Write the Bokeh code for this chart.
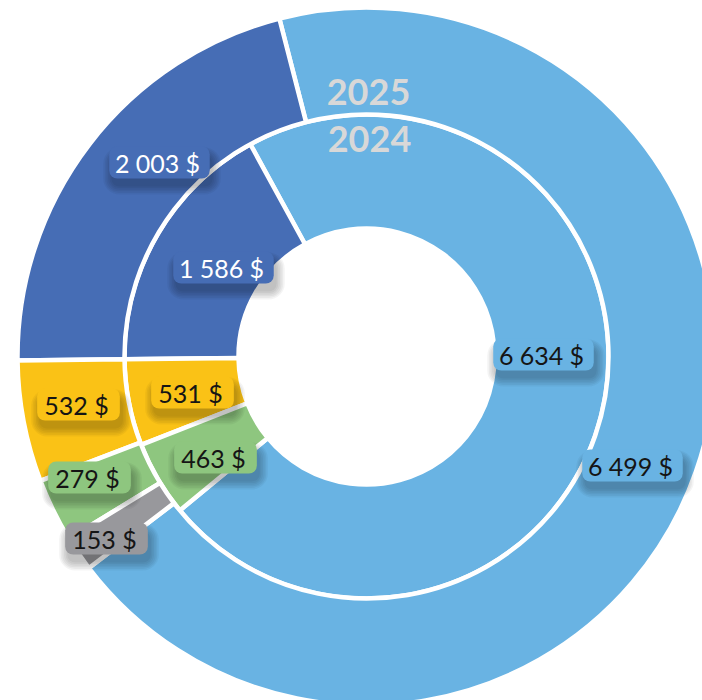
import math
from bokeh.plotting import figure
from bokeh.models import Range1d, ColumnDataSource
from bokeh.core.properties import value
from bokeh.embed import file_html
from bokeh.resources import INLINE

# ---------------- data ----------------
categories = ["Catégorie 1", "Catégorie 2", "Catégorie 3", "Catégorie 4", "Catégorie 5"]
values_2025 = [6499, 2003, 532, 279, 153]
values_2024 = [6634, 1586, 531, 463, 0]
years = ["2025", "2024"]

# ---------------- styles ----------------
colors = ["#69B3E3", "#466DB5", "#FAC216", "#8EC67F", "#98989C"]
label_text_colors = ["#151515", "#FFFFFF", "#151515", "#151515", "#151515"]
FONT = "Lato"

# ---------------- layout ----------------
W, H = 702, 700
PX0, PY0 = 0, 0  # page offset of the figure (bokeh template has no body margin)


def dy(py):
    """page y -> data y"""
    return 700 - py


CX, CY = 366, dy(356)
R_HOLE, R_MID, R_OUT = 128, 242, 349
START_OUTER, START_INNER = 217.3, 219.5
STROKE = 4.5

# text centres of the value labels (page px)
label_pos_2025 = [(630, 465), (157, 162), (76, 404), (87, 477), (104, 538)]
label_pos_2024 = [(541, 354), (221, 267), (190, 392), (213, 457), None]
year_radius = [265, 218]

p = figure(width=W, height=H, output_backend="svg", toolbar_location=None,
           x_range=Range1d(PX0, PX0 + W), y_range=Range1d(dy(PY0 + H), dy(PY0)),
           x_axis_type=None, y_axis_type=None, min_border=0)
p.grid.visible = False
p.outline_line_color = None
p.background_fill_color = "white"
p.border_fill_color = "white"


def fmt(v):
    return f"{v:,}".replace(",", "\u202f") + "\u00a0$"


def ring(vals, start, r_in, r_out):
    tot = float(sum(vals))
    a = start
    xs, ys, sa, ea, cols = [], [], [], [], []
    for i, v in enumerate(vals):
        if v <= 0:
            continue
        span = v / tot * 360.0
        xs.append(CX)
        ys.append(CY)
        sa.append(math.radians(a % 360))
        ea.append(math.radians((a + span) % 360))
        cols.append(colors[i])
        a += span
    src = ColumnDataSource(dict(x=xs, y=ys, sa=sa, ea=ea, c=cols))
    p.annular_wedge(x="x", y="y", inner_radius=r_in, outer_radius=r_out,
                    start_angle="sa", end_angle="ea",
                    fill_color="c", line_color="white", line_width=STROKE,
                    source=src)


ring(values_2024, START_INNER, R_HOLE, R_MID)
ring(values_2025, START_OUTER, R_MID, R_OUT)

# ---------------- value labels ----------------
FS = 25
DIGIT_W = 14.3
SPACE_W = 3.5
PAD_L, PAD_R, HALF_H = 9, 13, 16


def text_width(s):
    w = 0.0
    for ch in s:
        w += SPACE_W if ch in "\u202f\u00a0 " else DIGIT_W
    return w


boxes = []
for vals, poss in ((values_2025, label_pos_2025), (values_2024, label_pos_2024)):
    for i, v in enumerate(vals):
        if v <= 0 or poss[i] is None:
            continue
        tx, ty = poss[i]
        t = fmt(v)
        w = text_width(t)
        boxes.append(dict(tx=tx, ty=ty, t=t, l=tx - w / 2 - PAD_L, r=tx + w / 2 + PAD_R,
                          top=ty - HALF_H, bot=ty + HALF_H, c=colors[i],
                          tc=label_text_colors[i]))

# soft shadows (mostly below the boxes)
for k in range(6):
    e = k * 1.6
    src = ColumnDataSource(dict(
        l=[b["l"] + 2 - e for b in boxes], r=[b["r"] + 3 + e for b in boxes],
        t=[dy(b["top"] + 9 - e) for b in boxes], b=[dy(b["bot"] + 8 + e) for b in boxes]))
    p.quad(left="l", right="r", top="t", bottom="b", source=src,
           fill_color="black", fill_alpha=0.045, line_color=None,
           border_radius=int(8 + e))

# boxes
src = ColumnDataSource(dict(
    l=[b["l"] for b in boxes], r=[b["r"] for b in boxes],
    t=[dy(b["top"]) for b in boxes], b=[dy(b["bot"]) for b in boxes],
    c=[b["c"] for b in boxes]))
p.quad(left="l", right="r", top="t", bottom="b", source=src,
       fill_color="c", line_color=None, border_radius=8)

src = ColumnDataSource(dict(x=[b["tx"] for b in boxes], y=[dy(b["ty"]) for b in boxes],
                            t=[b["t"] for b in boxes], tc=[b["tc"] for b in boxes]))
p.text(x="x", y="y", text="t", source=src, text_font=value(FONT),
       text_font_size=value(f"{FS}px"), text_align="center", text_baseline="middle",
       text_color="tc")

# year labels
src = ColumnDataSource(dict(x=[CX + 2, CX + 3], y=[CY + r for r in year_radius], t=years))
p.text(x="x", y="y", text="t", source=src, text_font=value(FONT),
       text_font_size=value("36px"), text_font_style="bold", text_align="center",
       text_baseline="middle", text_color="#D8D8D8")

open("out.html", "w").write(file_html(p, INLINE))
